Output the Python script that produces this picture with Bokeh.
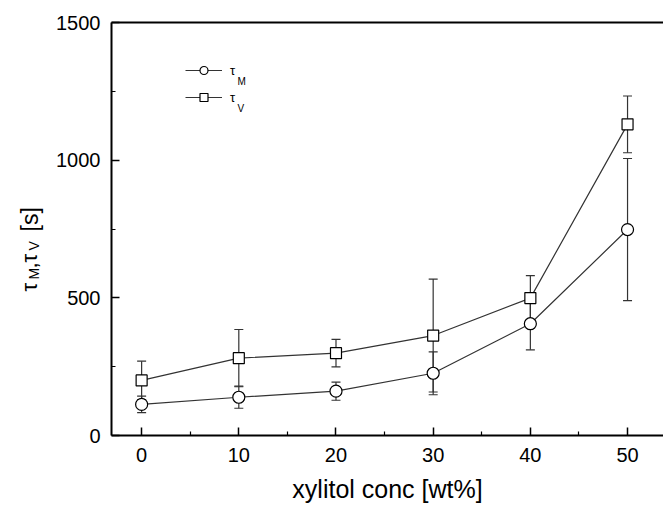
import math
from bokeh.plotting import figure
from bokeh.layouts import row
from bokeh.models import (ColumnDataSource, Whisker, TeeHead, FixedTicker, LinearAxis,
                          Label, Legend, LegendItem, Range1d)
from bokeh.embed import file_html
from bokeh.resources import INLINE

# ---- data ----
conc = [0, 10, 20, 30, 40, 50]
tau_m = [113, 139, 161, 226, 406, 748]
tau_m_err = [30, 40, 33, 78, 95, 258]
tau_v = [200, 281, 299, 363, 499, 1130]
tau_v_err = [70, 104, 50, 205, 82, 103]
x_ticks = [0, 10, 20, 30, 40, 50]
x_minor = [5, 15, 25, 35, 45]
y_ticks = [0, 500, 1000, 1500]
y_minor = [250, 750, 1250]
x_label = "xylitol conc [wt%]"

FONT = "Liberation Sans"
LINE = "#333333"

src_m = ColumnDataSource(dict(x=conc, y=tau_m,
                              lo=[a - b for a, b in zip(tau_m, tau_m_err)],
                              hi=[a + b for a, b in zip(tau_m, tau_m_err)]))
src_v = ColumnDataSource(dict(x=conc, y=tau_v,
                              lo=[a - b for a, b in zip(tau_v, tau_v_err)],
                              hi=[a + b for a, b in zip(tau_v, tau_v_err)]))

LEFT_W = 48

p = figure(frame_width=552, frame_height=413,
           x_range=Range1d(-3.1, 53.7), y_range=Range1d(0, 1500),
           output_backend="svg", toolbar_location=None,
           min_border_left=111 - LEFT_W, min_border_right=0,
           min_border_top=22, min_border_bottom=70)
p.xgrid.visible = False
p.ygrid.visible = False
p.outline_line_color = None
p.background_fill_color = "white"
p.border_fill_color = "white"

bottom_ax = p.below[0]
left_ax = p.left[0]

for ax in (bottom_ax, left_ax):
    ax.axis_line_width = 2
    ax.axis_line_color = "black"
    ax.major_tick_in = 8
    ax.major_tick_out = 0
    ax.minor_tick_in = 4
    ax.minor_tick_out = 0
    ax.major_tick_line_width = 1.5
    ax.minor_tick_line_width = 1.2
    ax.major_tick_line_color = "black"
    ax.minor_tick_line_color = "black"
    ax.major_label_text_font = FONT
    ax.major_label_text_font_size = "20px"
    ax.major_label_text_color = "black"

bottom_ax.ticker = FixedTicker(ticks=x_ticks, minor_ticks=x_minor)
left_ax.ticker = FixedTicker(ticks=y_ticks, minor_ticks=y_minor)
bottom_ax.major_label_standoff = 12
left_ax.major_label_standoff = 11
bottom_ax.axis_label = x_label
bottom_ax.axis_label_text_font = FONT
bottom_ax.axis_label_text_font_size = "25px"
bottom_ax.axis_label_text_font_style = "normal"
bottom_ax.axis_label_text_color = "black"
bottom_ax.axis_label_standoff = 10

# top frame line
top = LinearAxis(major_label_text_font_size="0px", major_tick_in=0, major_tick_out=0,
                 minor_tick_in=0, minor_tick_out=0, axis_line_width=2,
                 axis_line_color="black", ticker=FixedTicker(ticks=[]),
                 major_label_standoff=0)
p.add_layout(top, "above")

# error bars
for src in (src_m, src_v):
    w = Whisker(source=src, base="x", lower="lo", upper="hi",
                line_color=LINE, line_width=1.2,
                lower_head=TeeHead(size=9, line_color=LINE, line_width=1.2),
                upper_head=TeeHead(size=9, line_color=LINE, line_width=1.2))
    p.add_layout(w)

lm = p.line("x", "y", source=src_m, line_color=LINE, line_width=1.2)
lv = p.line("x", "y", source=src_v, line_color=LINE, line_width=1.2)
sm = p.scatter("x", "y", source=src_m, marker="circle", size=12,
               fill_color="white", line_color="black", line_width=1.2)
sv = p.scatter("x", "y", source=src_v, marker="square", size=11,
               fill_color="white", line_color="black", line_width=1.2)

legend = Legend(items=[LegendItem(label="τ", renderers=[lm, sm]),
                       LegendItem(label="τ", renderers=[lv, sv])],
                location=(74, 328), padding=0, margin=0, spacing=7,
                glyph_width=37, glyph_height=20, label_height=20,
                label_standoff=8, border_line_color=None,
                background_fill_alpha=0, label_text_font=FONT,
                label_text_font_size="13px", label_text_color="black")
p.add_layout(legend)


def lab(fig, text, x, y, size, angle=0.0):
    fig.add_layout(Label(text=text, x=x, y=y, x_units="screen", y_units="screen",
                         angle=angle, text_font=FONT, text_font_size=size,
                         text_color="black", text_align="left",
                         text_baseline="alphabetic"))

# legend subscripts
lab(p, "M", 126, 354, "10px")
lab(p, "V", 126, 327, "10px")

# narrow strip holding the rotated y-axis label: τM, τV [s]
q = figure(width=LEFT_W, height=505, x_range=Range1d(0, LEFT_W), y_range=Range1d(0, 505),
           output_backend="svg", toolbar_location=None, min_border=0)
q.axis.visible = False
q.grid.visible = False
q.outline_line_color = None
q.border_fill_color = "white"
q.background_fill_color = "white"

r = math.pi / 2
lab(q, "τ", 29, 144, "22px", r)
lab(q, "M", 33, 156, "14px", r)
lab(q, ",", 29, 167, "22px", r)
lab(q, "τ", 29, 173, "22px", r)
lab(q, "V", 33, 185, "14px", r)
lab(q, "[s]", 29, 204, "23px", r)

layout = row(q, p, spacing=0)
open("out.html", "w").write(file_html(layout, INLINE))
